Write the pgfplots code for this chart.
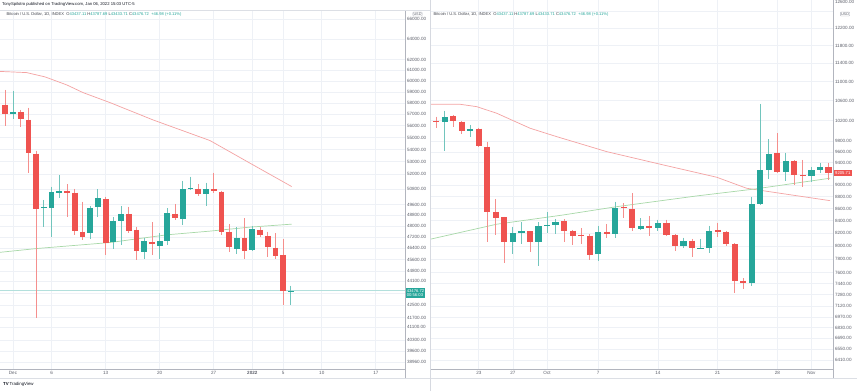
\documentclass[border=0pt]{standalone}
\usepackage{fontspec}
\setmainfont{Liberation Sans}
\usepackage{pgfplots}
\pgfplotsset{compat=1.18}
\definecolor{tvred}{HTML}{EF5350}
\definecolor{tvgreen}{HTML}{26A69A}
\definecolor{gridc}{HTML}{EEF1F6}
\definecolor{axc}{HTML}{B2B5BE}
\definecolor{txt}{HTML}{131722}
\definecolor{lbl}{HTML}{5D606B}
\definecolor{maRed}{HTML}{F4A3A3}
\definecolor{maGreen}{HTML}{A8D8A8}
\def\bw{5.8bp}
% candle macros: {x}{open}{high}{low}{close}
\newcommand{\cu}[5]{%
  \addplot[tvgreen!65!white, line width=0.9bp] coordinates {(#1,#3) (#1,#4)};
  \addplot[tvgreen, line width=\bw] coordinates {(#1,#2) (#1,#5)};}
\newcommand{\cd}[5]{%
  \addplot[tvred!65!white, line width=0.9bp] coordinates {(#1,#3) (#1,#4)};
  \addplot[tvred, line width=\bw] coordinates {(#1,#2) (#1,#5)};}
\begin{document}
\begin{tikzpicture}[x=1bp,y=1bp]
\useasboundingbox (0,0) rectangle (860,391);
\fill[white] (0,0) rectangle (860,391);
% ---------------- left panel ----------------
\begin{axis}[scale only axis, ymode=log, clip=true,
  axis x line*=bottom, axis y line*=right,
  axis line style={axc, line width=0.8bp, -},
  xmajorgrids, ymajorgrids, major grid style={gridc, line width=0.7bp},
  major tick length=0pt, yminorticks=false,
  yticklabel pos=right,
  yticklabel style={font=\fontsize{4.6}{5}\selectfont, text=lbl, anchor=west, inner sep=0pt, xshift=1.8bp},
  xticklabel style={font=\fontsize{4.6}{5}\selectfont, text=lbl, anchor=north, inner sep=0pt, yshift=-2.6bp},
  at={(0bp,22bp)}, anchor=south west, width=405bp, height=359bp,
  xmin=-0.684, xmax=51.78, ymin=38552, ymax=66919,
  xtick={1,6,13,20,27,32,36,41,48},
  xticklabels={Dec,6,13,20,27,\textbf{2022},5,10,17},
  ytick={66000,64000,62000,61000,60000,59000,58000,57000,56000,55000,54000,53000,52000,50800,49600,48800,48000,47200,46400,45600,44800,44100,43300,42500,41700,41100,40300,39600,38960},
  yticklabels={66000.00,64000.00,62000.00,61000.00,60000.00,59000.00,58000.00,57000.00,56000.00,55000.00,54000.00,53000.00,52000.00,50800.00,49600.00,48800.00,48000.00,47200.00,46400.00,45600.00,44800.00,44100.00,{},42500.00,41700.00,41100.00,40300.00,39600.00,38960.00},
]
\addplot[tvgreen!35!white, line width=0.6bp] coordinates {(-0.684,43476.72) (51.78,43476.72)};
\addplot[maRed, line width=0.7bp] coordinates {(-0.68,60886) (2.77,60774) (5.15,60374) (7.96,59637) (10.07,58936) (13.56,58037) (19.13,56515) (26.52,54747) (32.09,52740) (37.1,51011)};
\addplot[maGreen, line width=0.7bp] coordinates {(-0.68,46107) (4.07,46377) (13.56,46806) (20.91,47363) (26.52,47634) (31.7,47927) (37.1,48148)};
\cd{0}{57833}{59181}{56023}{57038}
\cu{1}{57012}{59117}{56576}{57214}
\cd{2}{57187}{57390}{55885}{56576}
\cd{3}{56515}{57594}{52071}{53696}
\cd{4}{53663}{53911}{41676}{49271}
\cu{5}{49392}{49980}{47971}{49468}
\cu{6}{49369}{51011}{47240}{50574}
\cu{7}{50543}{51935}{50110}{50675}
\cd{8}{50652}{51200}{48713}{50543}
\cd{9}{50543}{50831}{47363}{47677}
\cd{10}{47604}{49849}{47001}{47240}
\cu{11}{47531}{49521}{47095}{49392}
\cu{12}{49468}{50807}{48713}{50157}
\cd{13}{50033}{50234}{45931}{46763}
\cu{14}{46835}{48668}{46356}{48393}
\cu{15}{48416}{49521}{46641}{48916}
\cd{16}{48916}{49468}{47531}{47677}
\cd{17}{47728}{47971}{45580}{46235}
\cu{18}{46143}{47123}{45629}{46907}
\cd{19}{46856}{48297}{45931}{46734}
\cu{20}{46591}{47487}{45629}{46929}
\cu{21}{46950}{49347}{46641}{48969}
\cd{22}{48916}{49674}{48467}{48639}
\cu{23}{48520}{51460}{48096}{50831}
\cu{24}{50807}{51800}{50753}{50910}
\cd{25}{50855}{51200}{50287}{50465}
\cu{26}{50465}{51326}{49521}{50807}
\cd{27}{50831}{52119}{50496}{50698}
\cd{28}{50621}{50700}{47363}{47604}
\cd{29}{47582}{48148}{46164}{46477}
\cu{30}{46377}{47927}{45980}{47167}
\cd{31}{47167}{48594}{45650}{46235}
\cu{32}{46285}{48023}{46214}{47779}
\cd{33}{47728}{47927}{47240}{47341}
\cd{34}{47291}{47604}{45769}{46477}
\cd{35}{46448}{47487}{45650}{45882}
\cd{36}{45931}{47051}{42536}{43460}
\cu{37}{43437}{43815}{42490}{43477}
\end{axis}
% ---------------- right panel ----------------
\def\bw{6.2bp}
\begin{axis}[scale only axis, ymode=log, clip=true,
  axis x line*=bottom, axis y line*=right,
  axis line style={axc, line width=0.8bp, -},
  xmajorgrids, ymajorgrids, major grid style={gridc, line width=0.7bp},
  major tick length=0pt, yminorticks=false,
  yticklabel pos=right,
  yticklabel style={font=\fontsize{4.6}{5}\selectfont, text=lbl, anchor=west, inner sep=0pt, xshift=1.8bp},
  xticklabel style={font=\fontsize{4.6}{5}\selectfont, text=lbl, anchor=north, inner sep=0pt, yshift=-2.6bp},
  at={(430bp,22bp)}, anchor=south west, width=403bp, height=369bp,
  xmin=-13.72, xmax=33.53, ymin=6304, ymax=12888,
  xtick={-8,-4,0,6,13,20,27,31},
  xticklabels={23,27,Oct,7,14,21,28,Nov},
  ytick={12600,12200,11800,11400,11000,10600,10200,9800,9600,9400,9200,9000,8800,8600,8400,8200,8000,7800,7600,7440,7280,7120,6970,6830,6690,6550,6410},
  yticklabels={{},12200.00,11800.00,11400.00,11000.00,10600.00,10200.00,9800.00,9600.00,9400.00,{},9000.00,8800.00,8600.00,8400.00,8200.00,8000.00,7800.00,7600.00,7440.00,7280.00,7120.00,6970.00,6830.00,6690.00,6550.00,6410.00},
]
\addplot[maRed, line width=0.7bp] coordinates {(-13.72,10529) (-10.2,10529) (-8.24,10480) (-5.9,10347) (-1.99,10051) (1.14,9888) (7.0,9605) (13.63,9361) (19.9,9140) (23.41,8947) (27.32,8861) (33.18,8735)};
\addplot[maGreen, line width=0.7bp] coordinates {(-13.72,8105) (-5.9,8345) (1.91,8496) (8.17,8634) (17.55,8815) (24.38,8935) (33.18,9123)};
\cd{-14}{10290}{10330}{10180}{10220}
\cd{-13}{10200}{10280}{10050}{10181}
\cu{-12}{10181}{10400}{9624}{10280}
\cd{-11}{10286}{10313}{10082}{10194}
\cd{-10}{10181}{10190}{9934}{10005}
\cu{-9}{9998}{10115}{9876}{10043}
\cd{-8}{10043}{10063}{9699}{9712}
\cd{-7}{9699}{9794}{8068}{8551}
\cd{-6}{8546}{8758}{8173}{8447}
\cd{-5}{8458}{8469}{7737}{8068}
\cu{-4}{8068}{8306}{7873}{8200}
\cu{-3}{8205}{8376}{8032}{8231}
\cd{-2}{8231}{8242}{7913}{8068}
\cu{-1}{8068}{8376}{7702}{8317}
\cu{0}{8322}{8540}{8210}{8339}
\cu{1}{8333}{8431}{8189}{8387}
\cd{2}{8393}{8425}{8068}{8242}
\cd{3}{8242}{8253}{8016}{8163}
\cd{4}{8178}{8280}{8032}{8157}
\cd{5}{8163}{8184}{7792}{7868}
\cu{6}{7873}{8317}{7777}{8216}
\cd{7}{8221}{8349}{8131}{8194}
\cu{8}{8194}{8719}{8131}{8607}
\cd{9}{8623}{8690}{8441}{8607}
\cd{10}{8596}{8861}{8242}{8280}
\cu{11}{8274}{8441}{8253}{8317}
\cd{12}{8317}{8480}{8157}{8290}
\cu{13}{8290}{8420}{8242}{8366}
\cd{14}{8366}{8420}{8163}{8173}
\cd{15}{8173}{8184}{7924}{8006}
\cu{16}{8006}{8131}{7965}{8084}
\cd{17}{8084}{8110}{7827}{7965}
\cu{18}{7960}{8110}{7949}{7970}
\cu{19}{7970}{8317}{7898}{8242}
\cd{20}{8253}{8371}{8147}{8226}
\cd{21}{8221}{8237}{8006}{8032}
\cd{22}{8027}{8042}{7300}{7481}
\cd{23}{7481}{7515}{7361}{7447}
\cu{24}{7442}{8803}{7404}{8674}
\cu{25}{8679}{10535}{8662}{9270}
\cu{26}{9270}{9838}{9116}{9562}
\cd{27}{9575}{9953}{9211}{9235}
\cu{28}{9235}{9587}{9069}{9440}
\cd{29}{9440}{9450}{9011}{9175}
\cd{30}{9181}{9452}{8976}{9157}
\cu{31}{9169}{9330}{9063}{9270}
\cu{32}{9270}{9403}{9223}{9318}
\cd{33}{9318}{9403}{9092}{9223}
\end{axis}
% ---------------- frame and decorations ----------------
\draw[gridc!70!axc, line width=0.5bp] (0,381) -- (430,381);
\draw[gridc!70!axc, line width=0.5bp] (0,13) -- (857,13);
\draw[axc, line width=0.8bp] (405,13) -- (405,22);
\draw[axc, line width=0.8bp] (833,13) -- (833,22);
\draw[gridc!60!axc, line width=0.5bp] (430,0) -- (430,391);
% headers
\node[anchor=west, inner sep=0pt, text=txt, font=\fontsize{4.2}{5}\selectfont] at (2,386.5)
  {TonySpilotro published on TradingView.com, Jan 06, 2022 15:03 UTC-5};
\node[anchor=west, inner sep=0pt, text=txt!80, font=\fontsize{4.1}{5}\selectfont] at (6.5,376.3)
  {Bitcoin / U.S. Dollar, 1D, INDEX\ \ O\textcolor{tvgreen}{43437.11}\ H\textcolor{tvgreen}{43787.69}\ L\textcolor{tvgreen}{43433.71}\ C\textcolor{tvgreen}{43476.72}\ \ \textcolor{tvgreen}{+46.98 (+0.11\%)}};
\node[anchor=west, inner sep=0pt, text=txt!80, font=\fontsize{4.1}{5}\selectfont] at (433.5,376.3)
  {Bitcoin / U.S. Dollar, 1D, INDEX\ \ O\textcolor{tvgreen}{43437.11}\ H\textcolor{tvgreen}{43787.69}\ L\textcolor{tvgreen}{43433.71}\ C\textcolor{tvgreen}{43476.72}\ \ \textcolor{tvgreen}{+46.98 (+0.11\%)}};
% top label of the right price scale, above its badge
\node[anchor=west, inner sep=0pt, text=lbl, font=\fontsize{4.6}{5}\selectfont] at (834.8,389.2) {12600.00};
% USD badges
\node[draw=axc, fill=white, rounded corners=0.8bp, inner sep=0.7bp, text=lbl, font=\fontsize{3.8}{4}\selectfont] at (417.5,377) {USD};
\node[draw=axc, fill=white, rounded corners=0.8bp, inner sep=0.7bp, text=lbl, font=\fontsize{3.8}{4}\selectfont] at (845,377) {USD};
% price labels
\node[fill=tvgreen, text=white, anchor=west, inner xsep=1.2bp, inner ysep=1bp, align=left, font=\fontsize{4.2}{4.9}\selectfont] at (405.4,98) {43476.72\\00:56:03};
\node[fill=tvred, text=white, anchor=west, inner xsep=1.6bp, inner ysep=1.1bp, font=\fontsize{4.2}{4.9}\selectfont] at (833.4,218) {9205.71};
% logo
\node[anchor=west, inner sep=0pt, text=txt, font=\fontsize{4.4}{5}\selectfont] at (3,7) {\textbf{TV}\,TradingView};
\end{tikzpicture}
\end{document}
